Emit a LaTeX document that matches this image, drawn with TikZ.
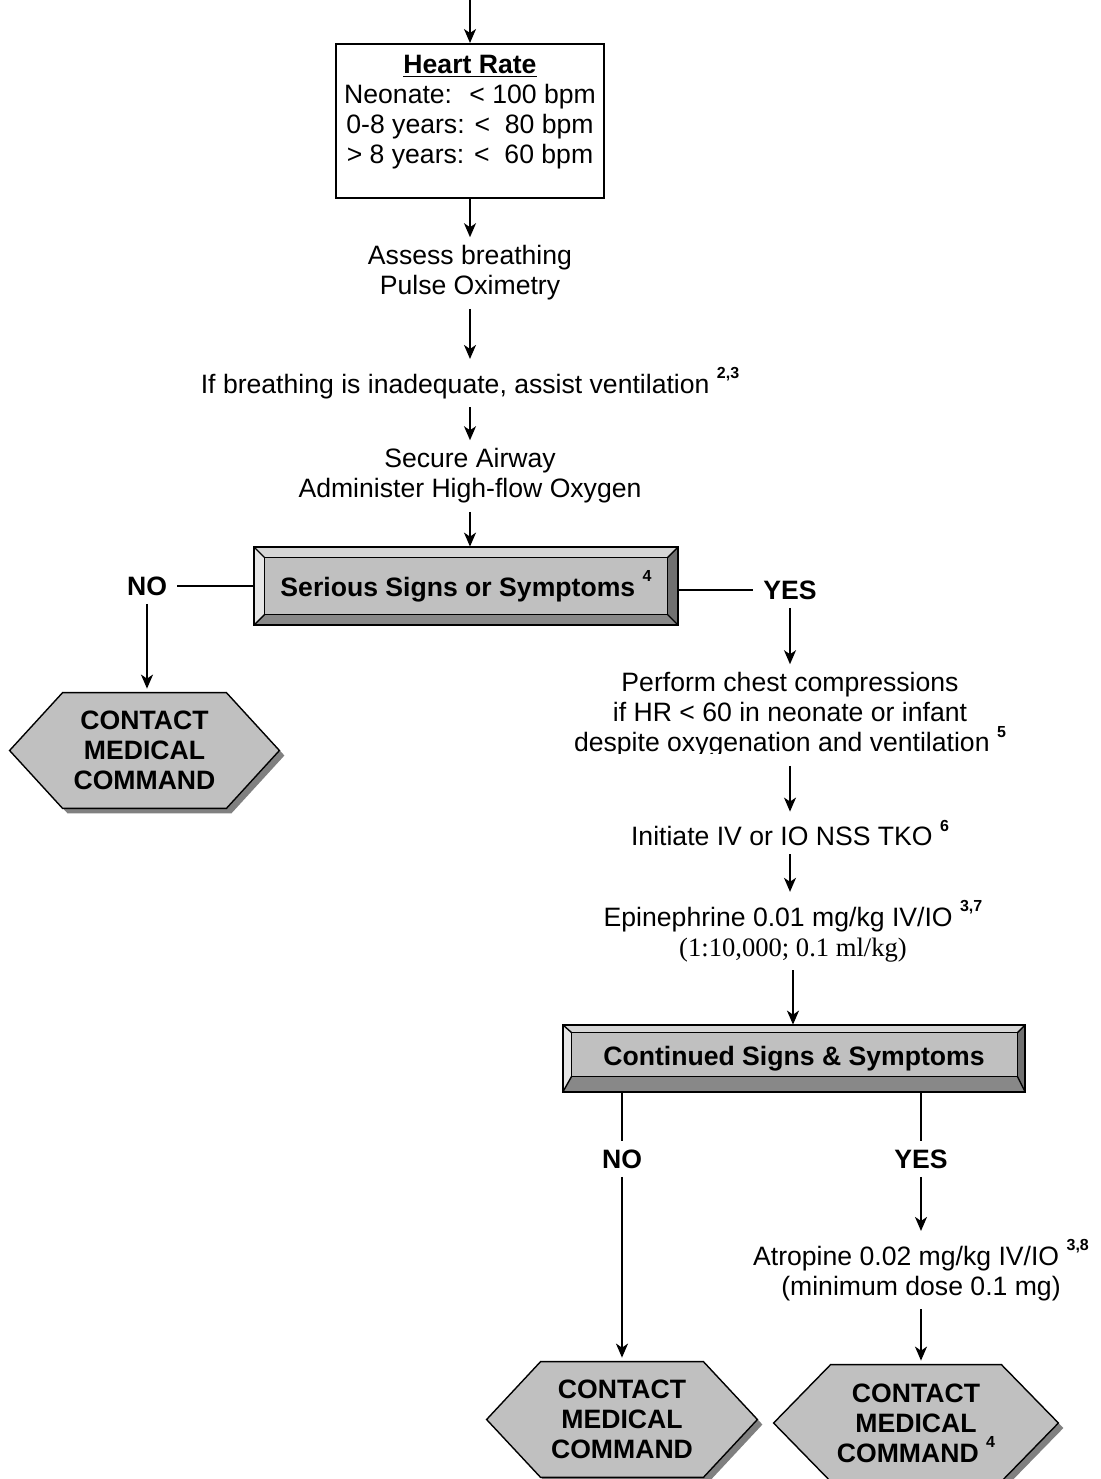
\documentclass[tikz,border=0pt]{standalone}
\usepackage{fontspec}
\setmainfont{Liberation Sans}
\newfontfamily\serifface{Liberation Serif}
\usetikzlibrary{arrows.meta,calc,backgrounds}

\definecolor{panel}{HTML}{C0C0C0}
\definecolor{bevtop}{HTML}{D6D6D6}
\definecolor{bevleft}{HTML}{E6E6E6}
\definecolor{bevright}{HTML}{707070}
\definecolor{bevbottom}{HTML}{888888}
\definecolor{hexshade}{HTML}{808080}

% small bold footnote marker
\newcommand\sups[1]{\raisebox{0.55em}{\fontsize{8}{8}\selectfont\bfseries #1}}

% bevelled button drawn around a node: name, left, top, right, bottom bevel
\newcommand\bevelframe[5]{%
  \path (#1.north west) coordinate (o1) (#1.north east) coordinate (o2)
        (#1.south east) coordinate (o3) (#1.south west) coordinate (o4);
  \path ($(o1)+(#2,#3)$) coordinate (i1) ($(o2)+(-#4,#3)$) coordinate (i2)
        ($(o3)+(-#4,-#5)$) coordinate (i3) ($(o4)+(#2,-#5)$) coordinate (i4);
  \fill[panel] (o1) rectangle (o3);
  \fill[bevtop] (o1) -- (o2) -- (i2) -- (i1) -- cycle;
  \fill[bevleft] (o1) -- (i1) -- (i4) -- (o4) -- cycle;
  \fill[bevright] (o2) -- (o3) -- (i3) -- (i2) -- cycle;
  \fill[bevbottom] (o4) -- (i4) -- (i3) -- (o3) -- cycle;
  \draw[line width=0.7pt] (i1) rectangle (i3);
  \draw[line width=0.7pt] (o1) -- (i1) (o2) -- (i2) (o3) -- (i3) (o4) -- (i4);
  \draw[line width=1pt] (o1) rectangle (o3);
}

% hexagon with drop shade drawn around a node: name, corner inset
\newcommand\hexframe[2]{%
  \fill[hexshade] ($(#1.west)+(5,5)$) -- ($(#1.north west)+(#2+5,5)$)
    -- ($(#1.north east)+(-#2+5,5)$) -- ($(#1.east)+(5,5)$)
    -- ($(#1.south east)+(-#2+5,5)$) -- ($(#1.south west)+(#2+5,5)$) -- cycle;
  \filldraw[fill=panel, draw=black, line width=0.7pt] (#1.west)
    -- ($(#1.north west)+(#2,0)$) -- ($(#1.north east)+(-#2,0)$) -- (#1.east)
    -- ($(#1.south east)+(-#2,0)$) -- ($(#1.south west)+(#2,0)$) -- cycle;
}

\begin{document}
\begin{tikzpicture}[x=0.5pt,y=-0.5pt,
  base/.style={font=\fontsize{13.3}{15}\selectfont, align=center,
               inner xsep=0pt, inner ysep=4pt},
  bold/.style={base, font=\fontsize{13.3}{15}\selectfont\bfseries},
  answer/.style={bold, inner xsep=5pt},
  flow/.style={-{Stealth[length=7pt,width=6pt,inset=2pt]}, line width=0.8pt},
  link/.style={line width=0.8pt},
  button/.style={bold, inner sep=0pt},
  hexnode/.style={bold, inner sep=0pt}]
\useasboundingbox (0,0) rectangle (1101,1479);

% ---- main column ----
\coordinate (entry) at (470,0);
\node[draw, line width=1pt, minimum width=134pt, minimum height=77pt, inner sep=0pt]
  (hr) at (470,121) {};
\node[base, inner ysep=0pt] (hrtext) at (470,112)
  {\underline{\textbf{Heart Rate}}\\Neonate:~ < 100 bpm\\0-8 years: <~ 80 bpm\\> 8 years: <~ 60 bpm};
\node[base] (assess) at (470,273) {Assess breathing\\Pulse Oximetry};
\node[base] (ifb) at (470,383) {If breathing is inadequate, assist ventilation \sups{2,3}};
\node[base] (secure) at (470,476) {Secure Airway\\Administer High-flow Oxygen};
\node[button, minimum width=212pt, minimum height=39pt] (ser) at (466,586)
  {Serious Signs or Symptoms \sups{4}};

% ---- NO branch ----
\node[answer] (no1) at (147,586) {NO};
\node[hexnode, minimum width=134.5pt, minimum height=57.5pt] (cmc1) at (144.5,750.5)
  {CONTACT\\MEDICAL\\COMMAND};

% ---- YES branch ----
\node[answer] (yes1) at (790,590) {YES};
\begin{scope}
  \clip (540,640) rectangle (1060,753);
  \node[base] (perform) at (790,715)
    {Perform chest compressions\\if HR < 60 in neonate or infant\\despite oxygenation and ventilation \sups{5}};
\end{scope}
\node[base] (initiate) at (790,833) {Initiate IV or IO NSS TKO \sups{6}};
\node[base] (epi) at (793,931)
  {Epinephrine 0.01 mg/kg IV/IO \sups{3,7}\\{\serifface (1:10,000; 0.1 ml/kg)}};
\node[button, minimum width=231pt, minimum height=33.5pt] (cont) at (794,1058.5)
  {Continued Signs \& Symptoms};

\node[answer] (no2) at (622,1159) {NO};
\node[answer] (yes2) at (921,1159) {YES};
\node[base] (atro) at (921,1270)
  {Atropine 0.02 mg/kg IV/IO \sups{3,8}\\(minimum dose 0.1 mg)};
\node[hexnode, minimum width=135pt, minimum height=57.5pt] (cmc2) at (622,1419.5)
  {CONTACT\\MEDICAL\\COMMAND};
\node[hexnode, minimum width=142pt, minimum height=58pt] (cmc3) at (916,1423)
  {CONTACT\\MEDICAL\\COMMAND \sups{4}};

% ---- shapes behind the texts ----
\begin{scope}[on background layer]
  \fill[white] (0,0) rectangle (1101,1479);
  \bevelframe{ser}{11}{11}{11}{11}
  \bevelframe{cont}{9}{8}{8}{16}
  \hexframe{cmc1}{53}
  \hexframe{cmc2}{54}
  \hexframe{cmc3}{57}
\end{scope}

% ---- connectors ----
\draw[flow] (entry) -- (hr.north);
\draw[flow] (hr.south) -- (assess.north);
\draw[flow] (assess.south) -- (ifb.north);
\draw[flow] (ifb.south) -- (secure.north);
\draw[flow] (secure.south) -- (secure.south |- ser.north);
\draw[link] (ser.west) -- (no1.east);
\draw[link] (ser.east |- yes1.west) -- (yes1.west);
\draw[flow, shorten >=2pt] (no1.south) -- (no1.south |- cmc1.north);
\draw[flow] (yes1.south) -- (perform.north);
\draw[flow] (perform.south) -- (initiate.north);
\draw[flow] (initiate.south) -- (initiate.south |- epi.north);
\draw[flow] (epi.south) -- (epi.south |- cont.north);
\draw[link] (cont.south -| no2) -- (no2.north);
\draw[flow, shorten >=2pt] (no2.south) -- (cmc2.north);
\draw[link] (cont.south -| yes2) -- (yes2.north);
\draw[flow] (yes2.south) -- (atro.north);
\draw[flow, shorten >=2pt] (atro.south) -- (atro.south |- cmc3.north);
\end{tikzpicture}
\end{document}
